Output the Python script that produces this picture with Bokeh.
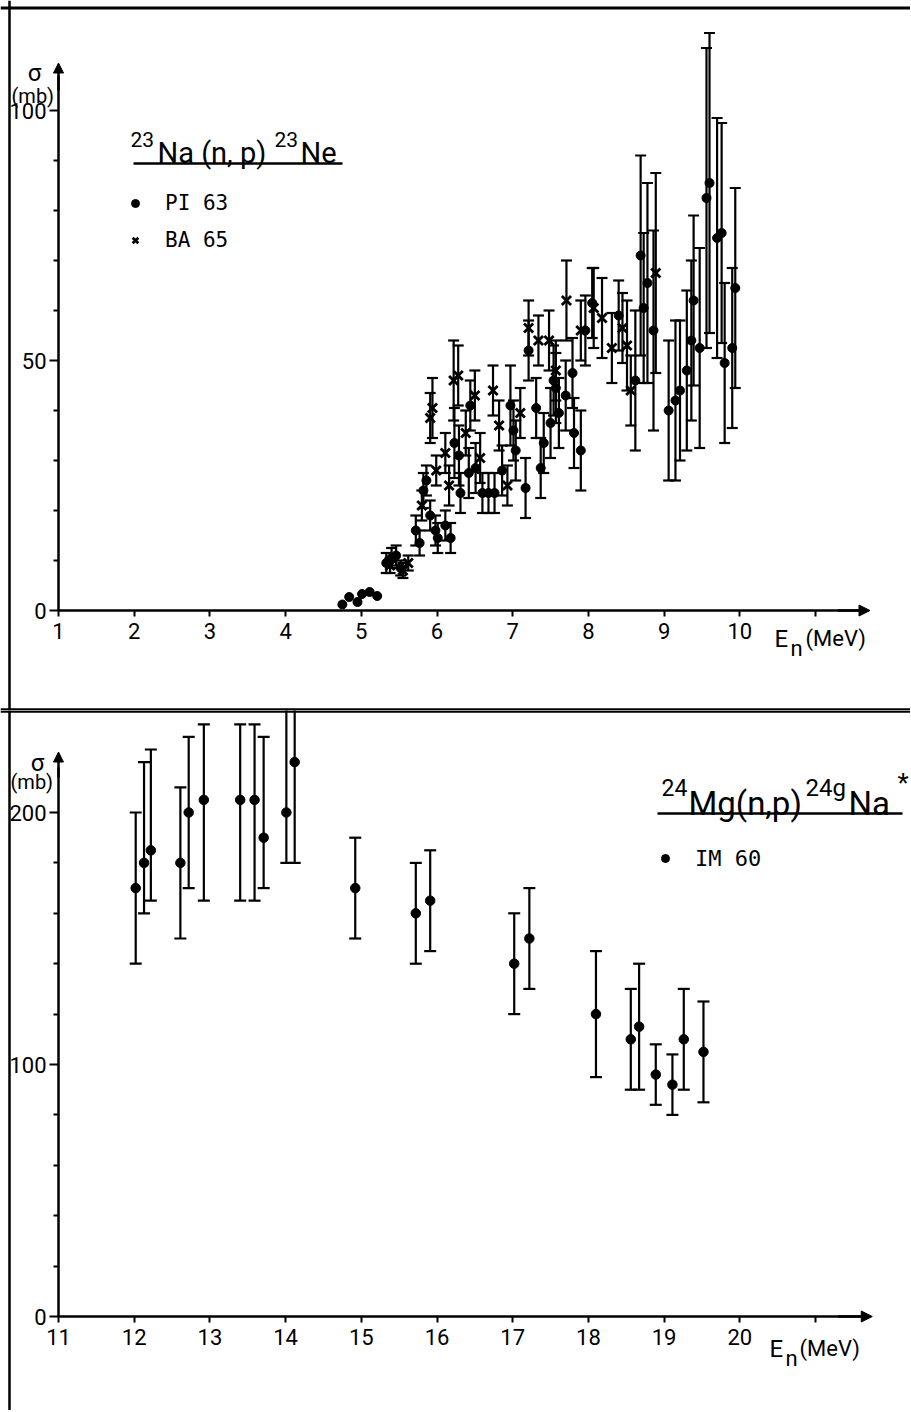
from bokeh.plotting import figure
from bokeh.models import (ColumnDataSource, LinearAxis, FixedTicker, Whisker, TeeHead,
                          Arrow, NormalHead, Label, Span, Legend, LegendItem, Range1d)
from bokeh.layouts import column
from bokeh.embed import file_html
from bokeh.resources import INLINE

# ---------------- data: 23Na(n,p)23Ne ----------------
pi63_e = [4.75, 4.84, 4.95, 5.01, 5.11, 5.21,
          5.33, 5.40, 5.46, 5.52, 5.72, 5.77, 5.82, 5.86, 5.91, 5.98, 6.01, 6.11, 6.18,
          6.23, 6.29, 6.31, 6.42, 6.44, 6.51, 6.60, 6.68, 6.76, 6.86, 6.97, 7.01, 7.04,
          7.17, 7.21, 7.31, 7.37, 7.41, 7.50, 7.54, 7.57, 7.61, 7.70, 7.79, 7.81, 7.90,
          7.96, 8.05, 8.40, 8.62, 8.69, 8.73, 8.78, 8.86, 9.06, 9.15, 9.21, 9.30, 9.36,
          9.39, 9.47, 9.56, 9.60, 9.70, 9.76, 9.80, 9.90, 9.94]
pi63_s = [1.2, 2.7, 1.7, 3.3, 3.7, 2.9,
          9.5, 10.5, 11.0, 8.5, 16.0, 13.5, 24.0, 26.0, 19.0, 16.0, 14.5, 17.0, 14.5,
          33.5, 31.0, 23.5, 27.5, 41.0, 28.5, 23.5, 23.5, 23.5, 28.0, 41.0, 36.0, 32.0,
          24.5, 52.0, 40.5, 28.5, 33.5, 37.5, 46.0, 44.5, 39.5, 43.0, 47.5, 35.5, 32.0,
          56.0, 61.5, 59.0, 46.0, 71.0, 60.5, 65.5, 56.0, 40.0, 42.0, 44.0, 48.0, 54.0,
          62.0, 52.5, 82.5, 85.5, 74.5, 75.5, 49.5, 52.5, 64.5]
pi63_err = [0, 0, 0, 0, 0, 0,
            2, 2, 2, 1.5, 3, 2.5, 3.5, 3, 3, 3, 3, 3, 3,
            7, 6, 4, 5, 5, 5, 4, 4, 4, 5, 8, 6, 6,
            6, 6, 6, 6, 6, 7, 7, 7, 7, 7, 7, 7, 8,
            7, 7, 7, 14, 20, 15, 20, 20, 14, 16, 14, 16, 16,
            17, 20, 30, 30, 24, 22, 16, 16, 20]

ba65_e = [5.38, 5.55, 5.62, 5.80, 5.91, 5.94, 5.99, 6.11, 6.16, 6.22, 6.28, 6.38, 6.50,
          6.57, 6.74, 6.82, 6.93, 7.10, 7.21, 7.34, 7.48, 7.57, 7.71, 7.90, 8.07, 8.18,
          8.31, 8.45, 8.51, 8.56, 8.89]
ba65_s = [9.0, 8.0, 9.5, 21.0, 38.5, 40.5, 28.0, 31.5, 25.0, 46.0, 47.0, 35.5, 43.0,
          30.5, 44.0, 37.0, 25.0, 39.5, 56.5, 54.0, 54.0, 48.0, 62.0, 56.0, 60.5, 58.5,
          52.5, 56.5, 53.0, 44.0, 67.5]
ba65_err = [1.5, 1.5, 1.5, 3, 5, 6, 3, 4, 4, 8, 6, 4.5, 5,
            5, 5, 5, 4, 5, 5.5, 5, 6, 6, 8, 6, 8, 8,
            7, 7, 9, 7, 20]

# ---------------- data: 24Mg(n,p)24gNa ----------------
im60_e = [12.02, 12.13, 12.22, 12.61, 12.72, 12.92, 13.40, 13.59, 13.71, 14.01, 14.12,
          14.92, 15.72, 15.91, 17.02, 17.22, 18.10, 18.56, 18.67, 18.89, 19.11, 19.26, 19.52]
im60_s = [170, 180, 185, 180, 200, 205, 205, 205, 190, 200, 220,
          170, 160, 165, 140, 150, 120, 110, 115, 96, 92, 110, 105]
im60_lo = [140, 160, 165, 150, 170, 165, 165, 165, 170, 180, 180,
           150, 140, 145, 120, 130, 95, 90, 90, 84, 80, 90, 85]
im60_hi = [200, 220, 225, 210, 230, 235, 235, 235, 230, 260, 260,
           190, 180, 185, 160, 170, 145, 130, 140, 108, 104, 130, 125]

top_x_ticks = [1, 2, 3, 4, 5, 6, 7, 8, 9, 10, 11]
top_y_ticks = [0, 50, 100]
top_y_minor = [10, 20, 30, 40, 60, 70, 80, 90]
bot_x_ticks = [11, 12, 13, 14, 15, 16, 17, 18, 19, 20, 21]
bot_y_ticks = [0, 100, 200]
bot_y_minor = [20, 40, 60, 80, 120, 140, 160, 180]

FONT = "Roboto"
MONO = "DejaVu Sans Mono"
W = 910
H1 = 710
H2 = 700
KX = 75.7  # px per MeV


# page pixel -> data helpers (for placing annotations)
def tx(px):
    return 1 + (px - 58) / KX


def ty(py):
    return (610 - py) / 5.0


def bx(px):
    return 11 + (px - 58) / KX


def by(py):
    return (1316 - py) / 2.52


def make_fig(xr, yr, h):
    p = figure(width=W, height=h, x_range=Range1d(*xr), y_range=Range1d(*yr),
               x_axis_type=None, y_axis_type=None, toolbar_location=None,
               output_backend="svg", min_border=0, outline_line_color=None,
               background_fill_color="white", border_fill_color="white")
    p.xgrid.visible = False
    p.ygrid.visible = False
    return p


def add_axes(p, x0, y0, xt, xb, yt, ymin, yb, xlast):
    xa = LinearAxis(fixed_location=y0, ticker=FixedTicker(ticks=xt, minor_ticks=[]),
                    bounds=xb, major_label_overrides={xlast: ""},
                    axis_line_width=2.5, major_tick_in=0, major_tick_out=6,
                    major_tick_line_width=2, minor_tick_in=0, minor_tick_out=0,
                    major_label_standoff=6, major_label_text_font=FONT,
                    major_label_text_font_size="22px", major_label_text_color="black")
    ya = LinearAxis(fixed_location=x0, ticker=FixedTicker(ticks=yt, minor_ticks=ymin),
                    bounds=yb, axis_line_width=2.5, major_tick_in=0, major_tick_out=9,
                    major_tick_line_width=2, minor_tick_in=0, minor_tick_out=5,
                    minor_tick_line_width=2, major_label_standoff=3,
                    major_label_text_font=FONT, major_label_text_font_size="22px",
                    major_label_text_color="black")
    p.add_layout(xa, "below")
    p.add_layout(ya, "left")


def add_err(p, x, lo, hi, size=11):
    src = ColumnDataSource(dict(x=x, lo=lo, hi=hi))
    p.add_layout(Whisker(source=src, base="x", lower="lo", upper="hi",
                         line_width=2.2, line_color="black",
                         upper_head=TeeHead(size=size, line_width=2.2, line_color="black"),
                         lower_head=TeeHead(size=size, line_width=2.2, line_color="black")))


def txt(p, x, y, text, size, font=FONT, align="left"):
    p.add_layout(Label(x=x, y=y, text=text, text_font=font, text_font_size=f"{size}px",
                       text_align=align, text_baseline="alphabetic", text_color="black"))


def hline(p, x0, x1, y, w=2.5):
    p.add_layout(Arrow(start=None, end=None, x_start=x0, y_start=y, x_end=x1, y_end=y,
                       line_width=w, line_color="black"))


def arrow(p, x0, y0, x1, y1, size=11):
    p.add_layout(Arrow(end=NormalHead(size=size, fill_color="black", line_color="black",
                                      line_width=1),
                       x_start=x0, y_start=y0, x_end=x1, y_end=y1,
                       line_width=2.5, line_color="black"))


# ================= top panel =================
p1 = make_fig((tx(0), tx(W)), (ty(H1), ty(0)), H1)
add_axes(p1, 1, 0, top_x_ticks, (1, 11.6), top_y_ticks, top_y_minor, (0, 107), 11)
arrow(p1, 11.3, 0, 11.72, 0)
arrow(p1, 1, 104, 1, 109.5, size=10)

pi_lo = [s - e for s, e, in zip(pi63_s, pi63_err)]
pi_hi = [s + e for s, e, in zip(pi63_s, pi63_err)]
keep = [i for i, e in enumerate(pi63_err) if e > 0]
add_err(p1, [pi63_e[i] for i in keep], [pi_lo[i] for i in keep], [pi_hi[i] for i in keep])
add_err(p1, ba65_e, [s - e for s, e in zip(ba65_s, ba65_err)],
        [s + e for s, e in zip(ba65_s, ba65_err)])
r_pi = p1.scatter(pi63_e, pi63_s, marker="circle", size=9, color="black")
r_ba = p1.scatter(ba65_e, ba65_s, marker="x", size=13, line_color="black", line_width=2.8)

# frame lines of the panel
p1.add_layout(Span(location=ty(7.5), dimension="width", line_color="black", line_width=3))
p1.add_layout(Span(location=tx(9), dimension="height", line_color="black", line_width=2.5))
p1.add_layout(Span(location=ty(709), dimension="width", line_color="black", line_width=2.5))

# title of the reaction
txt(p1, tx(130), ty(139), "23", 21)
txt(p1, tx(157), ty(152), "Na (n, p)", 29)
txt(p1, tx(274), ty(139), "23", 21)
txt(p1, tx(300), ty(152), "Ne", 29)
hline(p1, tx(133), tx(342), ty(163))

# axis labels
txt(p1, tx(34), ty(72), "σ", 24, align="center")
txt(p1, tx(11), ty(95), "(mb)", 20)
txt(p1, tx(774), ty(638), "E", 24)
txt(p1, tx(790), ty(648), "n", 22)
txt(p1, tx(805), ty(638), "(MeV)", 22)

leg1 = Legend(items=[LegendItem(label="PI 63", renderers=[r_pi]),
                     LegendItem(label="BA 65", renderers=[r_ba])],
              location=(125, 455), border_line_color=None, background_fill_alpha=0,
              padding=0, margin=0, spacing=7, glyph_width=20, glyph_height=30,
              label_height=30, label_standoff=20, label_text_font=MONO,
              label_text_font_size="21px", label_text_color="black")
p1.add_layout(leg1)

# ================= bottom panel =================
p2 = make_fig((bx(0), bx(W)), (by(H1 + H2), by(H1)), H2)
add_axes(p2, 11, 0, bot_x_ticks, (11, 21.6), bot_y_ticks, bot_y_minor, (0, 218), 21)
arrow(p2, 21.3, 0, 21.75, 0)
arrow(p2, 11, 214, 11, 224, size=10)

add_err(p2, im60_e, im60_lo, im60_hi, size=12)
r_im = p2.scatter(im60_e, im60_s, marker="circle", size=9.5, color="black")

p2.add_layout(Span(location=by(711), dimension="width", line_color="black", line_width=2.5))
p2.add_layout(Span(location=bx(9), dimension="height", line_color="black", line_width=2.5))

txt(p2, bx(661), by(787), "24", 23)
txt(p2, bx(688), by(803), "Mg(n,p)", 33)
txt(p2, bx(805), by(787), "24g", 24)
txt(p2, bx(848), by(803), "Na", 33)
txt(p2, bx(897), by(782), "*", 26)
hline(p2, bx(657), bx(902), by(813))

txt(p2, bx(37), by(762), "σ", 24, align="center")
txt(p2, bx(10), by(781), "(mb)", 20)
txt(p2, bx(769), by(1348), "E", 24)
txt(p2, bx(785), by(1358), "n", 22)
txt(p2, bx(799), by(1348), "(MeV)", 22)

leg2 = Legend(items=[LegendItem(label="IM 60", renderers=[r_im])],
              location=(655, 537), border_line_color=None, background_fill_alpha=0,
              padding=0, margin=0, spacing=7, glyph_width=20, glyph_height=30,
              label_height=30, label_standoff=20, label_text_font=MONO,
              label_text_font_size="22px", label_text_color="black")
p2.add_layout(leg2)

layout = column(p1, p2, spacing=0)
open("out.html", "w").write(file_html(layout, INLINE))
